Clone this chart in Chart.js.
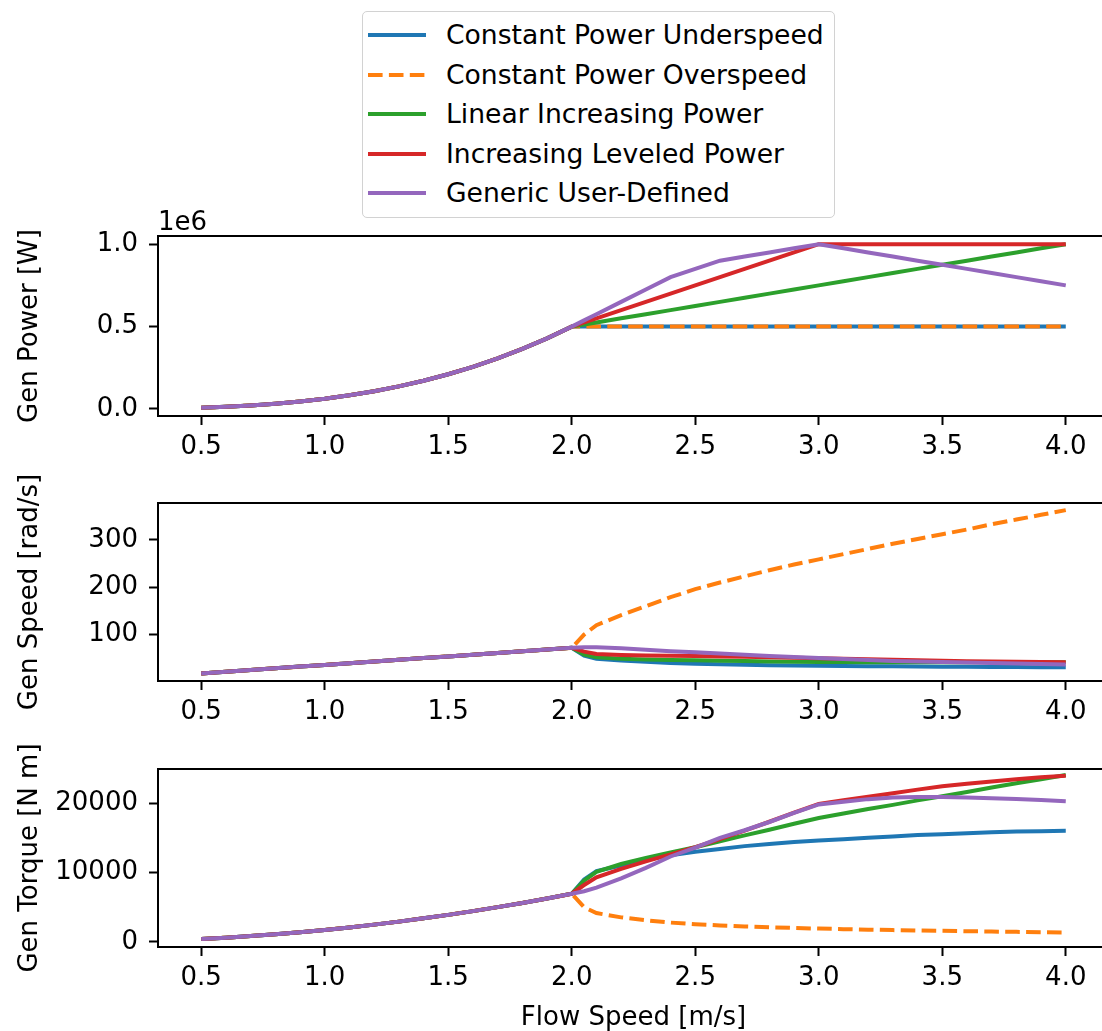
<!DOCTYPE html>
<html lang="en">
<head>
  <meta charset="UTF-8">
  <title>Generator Control Modes</title>
  <script src="https://cdn.jsdelivr.net/npm/chart.js"></script>
  <style>
    html, body { margin: 0; padding: 0; background: #fff; }
    body { width: 1102px; height: 1031px; overflow: hidden; position: relative; font-family: "DejaVu Sans", sans-serif; }
    canvas { position: absolute; left: 0; }
    #legend {
      position: absolute; left: 362px; top: 11px; width: 471px; height: 205px;
      border: 1.5px solid #d2d2d2; border-radius: 5px; background: #fff;
    }
    .row { position: absolute; left: 0; height: 30px; line-height: 30px; font-size: 26.6px; color: #000; white-space: nowrap; }
    .row svg { position: absolute; left: 5px; top: 10px; }
    .row span { position: absolute; left: 83px; top: 0; }
  </style>
</head>
<body>
  <div id="legend"></div>
  <canvas id="powerChart" width="1120" height="270" style="top:190px"></canvas>
  <canvas id="speedChart" width="1120" height="270" style="top:460px"></canvas>
  <canvas id="torqueChart" width="1120" height="301" style="top:730px"></canvas>

  <script>
    // flow speed samples [m/s]
    const flowSpeed = [0.5, 0.6, 0.7, 0.8, 0.9, 1.0, 1.1, 1.2, 1.3, 1.4, 1.5, 1.6, 1.7, 1.8, 1.9, 2.0,
      2.05, 2.1, 2.2, 2.3, 2.4, 2.5, 2.6, 2.7, 2.8, 2.9, 3.0, 3.1, 3.2, 3.3, 3.4, 3.5, 3.6, 3.7, 3.8, 3.9, 4.0];
    const flowTicks = [0.5, 1.0, 1.5, 2.0, 2.5, 3.0, 3.5, 4.0];

    const modeNames = ['Constant Power Underspeed', 'Constant Power Overspeed', 'Linear Increasing Power',
      'Increasing Leveled Power', 'Generic User-Defined'];
    const modeColors = ['#1f77b4', '#ff7f0e', '#2ca02c', '#d62728', '#9467bd'];

    // below rated flow (0.5 - 2.0 m/s) every mode follows the same curve
    const belowRatedPower = [7800, 13500, 21400, 32000, 45600, 62500, 83200, 108000, 137300, 171500, 211000, 256000, 307000, 364500, 428700, 500000];
    const belowRatedSpeed = [18, 21.6, 25.2, 28.8, 32.4, 36, 39.6, 43.2, 46.8, 50.4, 54, 57.6, 61.2, 64.8, 68.4, 72];
    const belowRatedTorque = [434, 625, 851, 1111, 1406, 1736, 2101, 2500, 2934, 3403, 3906, 4444, 5017, 5625, 6267, 6944];

    // above rated (2.05 - 4.0 m/s), power [W]
    const powerUnder = [500000, 500000, 500000, 500000, 500000, 500000, 500000, 500000, 500000, 500000, 500000, 500000, 500000, 500000, 500000, 500000, 500000, 500000, 500000, 500000, 500000];
    const powerOver = [500000, 500000, 500000, 500000, 500000, 500000, 500000, 500000, 500000, 500000, 500000, 500000, 500000, 500000, 500000, 500000, 500000, 500000, 500000, 500000, 500000];
    const powerLinear = [512500, 525000, 550000, 575000, 600000, 625000, 650000, 675000, 700000, 725000, 750000, 775000, 800000, 825000, 850000, 875000, 900000, 925000, 950000, 975000, 1000000];
    const powerLeveled = [525000, 550000, 600000, 650000, 700000, 750000, 800000, 850000, 900000, 950000, 1000000, 1000000, 1000000, 1000000, 1000000, 1000000, 1000000, 1000000, 1000000, 1000000, 1000000];
    const powerGeneric = [537500, 575000, 650000, 725000, 800000, 850000, 900000, 925000, 950000, 975000, 1000000, 975000, 950000, 925000, 900000, 875000, 850000, 825000, 800000, 775000, 750000];

    // generator speed [rad/s]
    const speedUnder = [55.6, 49, 45.5, 42.4, 40, 38.5, 37.3, 36.2, 35.5, 34.7, 34.2, 33.8, 33.3, 32.9, 32.5, 32.3, 31.9, 31.6, 31.4, 31.3, 31.2];
    const speedOver = [100, 120, 141, 160, 179, 196, 210, 223, 236, 248, 259, 270, 281, 292, 302, 312, 322, 333, 343, 353, 363];
    const speedLinear = [58, 52, 49, 47.5, 46.5, 45.8, 44.8, 44, 43.3, 42.6, 42, 41.9, 41.8, 41.8, 41.7, 41.7, 41.7, 41.6, 41.6, 41.6, 41.6];
    const speedLeveled = [64, 59, 57, 56, 55.5, 55, 54, 53, 52, 51, 50.3, 49, 47.8, 46.7, 45.6, 44.6, 43.9, 43.3, 42.7, 42.2, 41.8];
    const speedGeneric = [73.5, 73.5, 71, 68, 65, 62.5, 60, 57.5, 55, 52.5, 50.5, 48.3, 46.2, 44.5, 43.1, 41.9, 40.9, 39.9, 38.9, 37.9, 37];

    // generator torque [N m]
    const torqueUnder = [9000, 10200, 11000, 11800, 12500, 13000, 13400, 13800, 14100, 14400, 14600, 14800, 15000, 15200, 15400, 15500, 15650, 15800, 15900, 15950, 16000];
    const torqueOver = [5000, 4167, 3546, 3125, 2793, 2551, 2381, 2242, 2119, 2016, 1931, 1852, 1779, 1712, 1656, 1603, 1553, 1502, 1458, 1416, 1377];
    const torqueLinear = [8836, 10096, 11224, 12105, 12903, 13646, 14509, 15341, 16166, 17019, 17857, 18496, 19139, 19737, 20384, 20983, 21583, 22236, 22837, 23438, 24038];
    const torqueLeveled = [8203, 9322, 10526, 11607, 12613, 13636, 14815, 16038, 17308, 18627, 19881, 20408, 20920, 21413, 21930, 22422, 22779, 23095, 23419, 23697, 23923];
    const torqueGeneric = [7313, 7823, 9155, 10662, 12308, 13600, 15000, 16087, 17273, 18571, 19802, 20186, 20563, 20787, 20882, 20883, 20782, 20677, 20566, 20449, 20270];

    const powerTicks = [0, 500000, 1000000];
    const speedTicks = [100, 200, 300];
    const torqueTicks = [0, 10000, 20000];

    const FONT = '"DejaVu Sans", sans-serif';
    Chart.defaults.font.family = FONT;
    Chart.defaults.font.size = 26;
    Chart.defaults.color = '#000';

    const DASH = [14.6, 6.3];

    // legend box above the panels
    const legend = document.getElementById('legend');
    const rowCenters = [23, 62.5, 102, 141.5, 181];
    modeNames.forEach((name, i) => {
      const row = document.createElement('div');
      row.className = 'row';
      row.style.top = (rowCenters[i] - 15) + 'px';
      row.style.width = '465px';
      const dash = i === 1 ? `stroke-dasharray="${DASH.join(' ')}"` : '';
      row.innerHTML = `<svg width="62" height="10"><line x1="0" y1="5" x2="58" y2="5" stroke="${modeColors[i]}" stroke-width="4" ${dash}/></svg><span>${name}</span>`;
      legend.appendChild(row);
    });

    // closes the axes box and writes the axis offset text
    const framePlugin = {
      id: 'frame',
      afterDraw(chart, args, opts) {
        const { ctx, chartArea: a } = chart;
        ctx.save();
        ctx.strokeStyle = '#000';
        ctx.lineWidth = 2;
        ctx.strokeRect(a.left, a.top, a.right - a.left, a.bottom - a.top);
        if (opts.offsetText) {
          ctx.font = '26px ' + FONT;
          ctx.fillStyle = '#000';
          ctx.textAlign = 'left';
          ctx.textBaseline = 'alphabetic';
          ctx.fillText(opts.offsetText, a.left, a.top - 6);
        }
        ctx.restore();
      }
    };

    function seriesData(low, high) {
      const ys = low.concat(high);
      return flowSpeed.map((x, i) => ({ x: x, y: ys[i] }));
    }

    function buildDatasets(low, highs) {
      return highs.map((high, i) => ({
        label: modeNames[i],
        data: seriesData(low, high),
        borderColor: modeColors[i],
        borderWidth: 4,
        borderDash: i === 1 ? DASH : [],
        borderCapStyle: 'butt',
        pointRadius: 0,
        tension: 0,
        fill: false,
        order: highs.length - i
      }));
    }

    function makePanel(id, cfg) {
      return new Chart(document.getElementById(id), {
        type: 'line',
        data: { datasets: cfg.datasets },
        plugins: [framePlugin],
        options: {
          responsive: false,
          animation: false,
          layout: { padding: { top: cfg.top, right: 11, bottom: 0, left: 0 } },
          plugins: {
            legend: { display: false },
            tooltip: { enabled: false },
            frame: { offsetText: cfg.offsetText || '' }
          },
          scales: {
            x: {
              type: 'linear',
              min: 0.325,
              max: 4.175,
              afterBuildTicks: s => { s.ticks = flowTicks.map(v => ({ value: v })); },
              afterFit: s => { s.height = cfg.xHeight; },
              grid: { drawOnChartArea: false, tickLength: 9, tickWidth: 2, tickColor: '#000' },
              border: { color: '#000', width: 2 },
              ticks: { padding: 7, maxRotation: 0, autoSkip: false, callback: v => v.toFixed(1) },
              title: cfg.xTitle
                ? { display: true, text: cfg.xTitle, padding: { top: 0, bottom: -3 } }
                : { display: false }
            },
            y: {
              type: 'linear',
              min: cfg.yMin,
              max: cfg.yMax,
              afterBuildTicks: s => { s.ticks = cfg.yTicks.map(v => ({ value: v })); },
              afterFit: s => { s.width = 158; },
              grid: { drawOnChartArea: false, tickLength: 9, tickWidth: 2, tickColor: '#000' },
              border: { color: '#000', width: 2 },
              ticks: { padding: 11, autoSkip: false, callback: cfg.yFormat },
              title: { display: true, text: cfg.yTitle, padding: { top: 15, bottom: 0 } }
            }
          }
        }
      });
    }

    makePanel('powerChart', {
      datasets: buildDatasets(belowRatedPower, [powerUnder, powerOver, powerLinear, powerLeveled, powerGeneric]),
      top: 46, xHeight: 44,
      yMin: -42500, yMax: 1049600, yTicks: powerTicks,
      yFormat: v => (v / 1e6).toFixed(1),
      yTitle: 'Gen Power [W]',
      offsetText: '1e6'
    });

    makePanel('speedChart', {
      datasets: buildDatasets(belowRatedSpeed, [speedUnder, speedOver, speedLinear, speedLeveled, speedGeneric]),
      top: 43, xHeight: 49,
      yMin: 2, yMax: 378, yTicks: speedTicks,
      yFormat: v => String(v),
      yTitle: 'Gen Speed [rad/s]'
    });

    makePanel('torqueChart', {
      datasets: buildDatasets(belowRatedTorque, [torqueUnder, torqueOver, torqueLinear, torqueLeveled, torqueGeneric]),
      top: 39, xHeight: 84,
      yMin: -720, yMax: 24900, yTicks: torqueTicks,
      yFormat: v => String(v),
      yTitle: 'Gen Torque [N m]',
      xTitle: 'Flow Speed [m/s]'
    });
  </script>
</body>
</html>
